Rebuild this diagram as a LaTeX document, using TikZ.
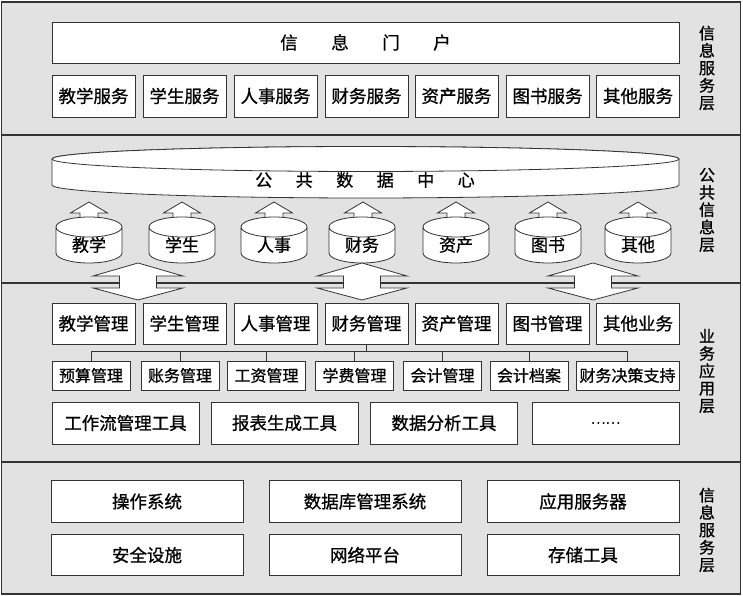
\documentclass[tikz,border=0pt]{standalone}
\usepackage{fontspec}
\setmainfont{Noto Sans CJK SC}[FakeBold=0.8]
\definecolor{bgc}{HTML}{E2E2E2}
\definecolor{linec}{HTML}{333333}

\begin{document}
\begin{tikzpicture}[x=1pt,y=1pt,
      box/.style={draw=linec,fill=white,line width=0.9pt,inner sep=0pt,font=\fontsize{17.5}{17.5}\selectfont},
      svc/.style={box,minimum width=83,minimum height=42},
      sub/.style={box,minimum width=78,minimum height=29,font=\fontsize{16}{16}\selectfont},
      tool/.style={box,minimum width=147,minimum height=42},
      base/.style={box,minimum width=192,minimum height=41.5},
      layer/.style={font=\fontsize{16}{17.4}\selectfont,align=center},
      cyl/.style={font=\fontsize{17}{17}\selectfont},
      blk/.style={draw=linec,fill=white,line width=0.8pt}]
      \useasboundingbox (0,0) rectangle (743,596);
      \fill[bgc] (1.5,2) rectangle (740.5,594);
      \draw[linec,line width=1.2pt] (1.5,2) rectangle (740.5,594);
      \draw[linec,line width=1.2pt] (1.5,461) -- (740.5,461);
      \draw[linec,line width=1.2pt] (1.5,313) -- (740.5,313);
      \draw[linec,line width=1.2pt] (1.5,134) -- (740.5,134);

      \node[box,minimum width=627,minimum height=41,font=\fontsize{17.5}{17.5}\selectfont] (portal) at (365.5,553.5) {信\hspace{33.5pt}息\hspace{33.5pt}门\hspace{33.5pt}户};
      \node[svc] (svc1) at (93.5,500) {教学服务};
      \node[svc] (svc2) at (184.5,500) {学生服务};
      \node[svc] (svc3) at (275.5,500) {人事服务};
      \node[svc] (svc4) at (366.5,500) {财务服务};
      \node[svc] (svc5) at (456.5,500) {资产服务};
      \node[svc] (svc6) at (547.5,500) {图书服务};
      \node[svc] (svc7) at (638,500) {其他服务};
      \node[layer] (lay1) at (707,528) {信\\息\\服\\务\\层};

      \draw[blk] (52,437) -- (52,411) arc[start angle=180,end angle=360,x radius=313.5,y radius=13] -- (679,437) arc[start angle=0,end angle=180,x radius=313.5,y radius=12.5] -- cycle;
      \draw[blk] (365.5,437) ellipse (313.5 and 12.5);
      \node[cyl] (pdc) at (365,416) {公\hspace{23.5pt}共\hspace{23.5pt}数\hspace{23.5pt}据\hspace{23.5pt}中\hspace{23.5pt}心};

      \draw[blk] (89,394) -- (107.5,383) -- (98,383) -- (98,369) -- (80,369) -- (80,383) -- (70.5,383) -- cycle;
      \draw[blk] (182,394) -- (200.5,383) -- (191,383) -- (191,369) -- (173,369) -- (173,383) -- (163.5,383) -- cycle;
      \draw[blk] (274,394) -- (292.5,383) -- (283,383) -- (283,369) -- (265,369) -- (265,383) -- (255.5,383) -- cycle;
      \draw[blk] (363,394) -- (381.5,383) -- (372,383) -- (372,369) -- (354,369) -- (354,383) -- (344.5,383) -- cycle;
      \draw[blk] (456,394) -- (474.5,383) -- (465,383) -- (465,369) -- (447,369) -- (447,383) -- (437.5,383) -- cycle;
      \draw[blk] (548,394) -- (566.5,383) -- (557,383) -- (557,369) -- (539,369) -- (539,383) -- (529.5,383) -- cycle;
      \draw[blk] (638,394) -- (656.5,383) -- (647,383) -- (647,369) -- (629,369) -- (629,383) -- (619.5,383) -- cycle;

      \draw[blk] (56,369) -- (56,343) arc[start angle=180,end angle=360,x radius=33,y radius=10] -- (122,369) arc[start angle=0,end angle=360,x radius=33,y radius=10];
      \draw[blk] (149,369) -- (149,343) arc[start angle=180,end angle=360,x radius=33,y radius=10] -- (215,369) arc[start angle=0,end angle=360,x radius=33,y radius=10];
      \draw[blk] (241,369) -- (241,343) arc[start angle=180,end angle=360,x radius=33,y radius=10] -- (307,369) arc[start angle=0,end angle=360,x radius=33,y radius=10];
      \draw[blk] (329,369) -- (329,343) arc[start angle=180,end angle=360,x radius=33,y radius=10] -- (395,369) arc[start angle=0,end angle=360,x radius=33,y radius=10];
      \draw[blk] (423,369) -- (423,343) arc[start angle=180,end angle=360,x radius=33,y radius=10] -- (489,369) arc[start angle=0,end angle=360,x radius=33,y radius=10];
      \draw[blk] (515,369) -- (515,343) arc[start angle=180,end angle=360,x radius=33,y radius=10] -- (581,369) arc[start angle=0,end angle=360,x radius=33,y radius=10];
      \draw[blk] (605,369) -- (605,343) arc[start angle=180,end angle=360,x radius=33,y radius=10] -- (671,369) arc[start angle=0,end angle=360,x radius=33,y radius=10];
      \node[cyl] (db1) at (89,351) {教学};
      \node[cyl] (db2) at (182,351) {学生};
      \node[cyl] (db3) at (274,351) {人事};
      \node[cyl] (db4) at (362,351) {财务};
      \node[cyl] (db5) at (456,351) {资产};
      \node[cyl] (db6) at (548,351) {图书};
      \node[cyl] (db7) at (638,351) {其他};
      \node[layer] (lay2) at (707,386) {公\\共\\信\\息\\层};

      \draw[blk] (138,333) -- (183,320) -- (156.5,320) -- (156.5,308) -- (183,308) -- (138,296) -- (93,308) -- (119.5,308) -- (119.5,320) -- (93,320) -- cycle;
      \draw[blk] (362,333) -- (407,320) -- (380.5,320) -- (380.5,308) -- (407,308) -- (362,296) -- (317,308) -- (343.5,308) -- (343.5,320) -- (317,320) -- cycle;
      \draw[blk] (593,333) -- (638,320) -- (611.5,320) -- (611.5,308) -- (638,308) -- (593,296) -- (548,308) -- (574.5,308) -- (574.5,320) -- (548,320) -- cycle;

      \node[svc,minimum height=41] (mgt1) at (93.5,272.5) {教学管理};
      \node[svc,minimum height=41] (mgt2) at (184.5,272.5) {学生管理};
      \node[svc,minimum height=41] (mgt3) at (275.5,272.5) {人事管理};
      \node[svc,minimum height=41] (mgt4) at (366.5,272.5) {财务管理};
      \node[svc,minimum height=41] (mgt5) at (456.5,272.5) {资产管理};
      \node[svc,minimum height=41] (mgt6) at (547.5,272.5) {图书管理};
      \node[svc,minimum height=41] (mgt7) at (638,272.5) {其他业务};

      \node[sub] (sub1) at (91,220.5) {预算管理};
      \node[sub] (sub2) at (180,220.5) {账务管理};
      \node[sub] (sub3) at (266.5,220.5) {工资管理};
      \node[sub] (sub4) at (354.5,220.5) {学费管理};
      \node[sub] (sub5) at (442.5,220.5) {会计管理};
      \node[sub] (sub6) at (529,220.5) {会计档案};
      \node[sub,minimum width=103] (sub7) at (627.5,220.5) {财务决策支持};

      \draw[linec,line width=0.9pt] (sub1.north) -- ++(0,9) -| (sub7.north);
      \draw[linec,line width=0.9pt] (sub2.north) -- ++(0,9);
      \draw[linec,line width=0.9pt] (sub3.north) -- ++(0,9);
      \draw[linec,line width=0.9pt] (sub4.north) -- ++(0,9);
      \draw[linec,line width=0.9pt] (sub5.north) -- ++(0,9);
      \draw[linec,line width=0.9pt] (sub6.north) -- ++(0,9);
      \draw[linec,line width=0.9pt] (mgt4.south) -- ++(0,-8);

      \node[tool] (tool1) at (125.5,173) {工作流管理工具};
      \node[tool] (tool2) at (284.5,173) {报表生成工具};
      \node[tool] (tool3) at (444,173) {数据分析工具};
      \node[tool,font=\fontsize{14}{14}\selectfont] (tool4) at (605.5,173) {……};
      \node[layer] (lay3) at (707,225) {业\\务\\应\\用\\层};

      \node[base] (sys1) at (147,94.5) {操作系统};
      \node[base] (sys2) at (365,94.5) {数据库管理系统};
      \node[base] (sys3) at (583,94.5) {应用服务器};
      \node[base] (sys4) at (147,41) {安全设施};
      \node[base] (sys5) at (365,41) {网络平台};
      \node[base] (sys6) at (583,41) {存储工具};
      \node[layer] (lay4) at (707,66) {信\\息\\服\\务\\层};
    \end{tikzpicture}
\end{document}
